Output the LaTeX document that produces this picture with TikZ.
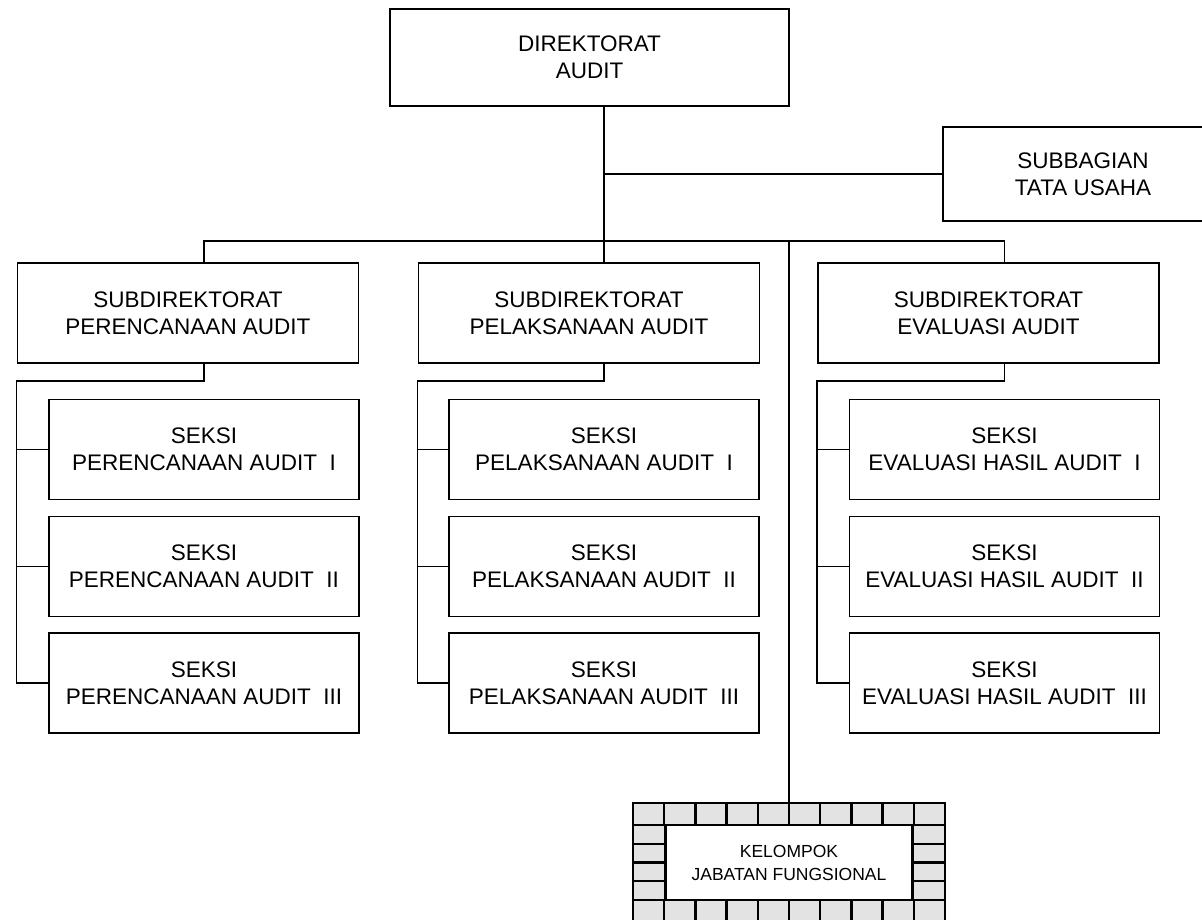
\documentclass[tikz,border=0pt]{standalone}
\usepackage{fontspec}
\setmainfont{Liberation Sans}

\begin{document}
\begin{tikzpicture}
	[x=1pt,y=-1pt,line cap=rect,line join=miter,
	%Styles
	unit/.style={draw,line width=1.8pt,align=center,inner sep=0pt,font=\fontsize{22.5}{27}\selectfont},
	direktorat/.style={unit,minimum width=399pt,minimum height=97pt},
	subbagian/.style={unit,minimum width=280pt,minimum height=94pt},
	subdirektorat/.style={unit,minimum width=341pt,minimum height=100pt},
	seksi/.style={unit,minimum width=310pt,minimum height=100pt},
	fungsional/.style={unit,line width=2.4pt,fill=white,minimum width=247pt,minimum height=75pt,font=\fontsize{17.5}{23}\selectfont},
	tile/.style={draw,line width=2.4pt,fill=gray!22},
	link/.style={line width=1.5pt}
	]
	\useasboundingbox (0,0) rectangle (1202,919);
	
	%The units
	\node[direktorat] (dir) at (589.5,57.5) {DIREKTORAT\\AUDIT};
	\node[subbagian] (tu) at (1083,174) {SUBBAGIAN\\TATA USAHA};
	
	\node[subdirektorat] (sdA) at (188,313) {SUBDIREKTORAT\\PERENCANAAN AUDIT};
	\node[subdirektorat] (sdB) at (589,313) {SUBDIREKTORAT\\PELAKSANAAN AUDIT};
	\node[subdirektorat] (sdC) at (988.5,313) {SUBDIREKTORAT\\EVALUASI AUDIT};
	
	\foreach \k/\y/\num in {1/449.5/I,2/566.5/II,3/683/III} {
		\node[seksi] (sA\k) at (204,\y) {SEKSI\\PERENCANAAN AUDIT~~\num};
		\node[seksi] (sB\k) at (604,\y) {SEKSI\\PELAKSANAAN AUDIT~~\num};
		\node[seksi] (sC\k) at (1004.5,\y) {SEKSI\\EVALUASI HASIL AUDIT~~\num};
	}
	
	%The tiled frame
	\foreach \i in {0,...,9} {
		\filldraw[tile] (633+31.2*\i,803) rectangle +(31.2,22);
		\filldraw[tile] (633+31.2*\i,900) rectangle +(31.2,22);
	}
	\foreach \j in {0,...,3} {
		\filldraw[tile] (633,825+18.75*\j) rectangle +(33,18.75);
		\filldraw[tile] (912,825+18.75*\j) rectangle +(33,18.75);
	}
	\node[fungsional] (jf) at (789,862.5) {KELOMPOK\\JABATAN FUNGSIONAL};
	\coordinate (jftop) at (789,803);
	
	%Lines
	\coordinate (bar) at (0,241);
	\coordinate (elbow) at (0,381);
	
	\draw[link] (dir.south -| sB1) -- (sdB.north -| sB1);
	\draw[link] (sB1 |- tu.west) -- (tu.west);
	\draw[link] (sA1 |- bar) -- (sC1 |- bar);
	\foreach \c in {A,C}
		\draw[link] (s\c1 |- bar) -- (s\c1 |- sd\c.north);
	\draw[link] (jftop |- bar) -- (jftop);
	
	\foreach \c in {A,B,C} {
		\draw[link] (sd\c.south -| s\c1) -- (s\c1 |- elbow) -- (sd\c.west |- elbow) -- (sd\c.west |- s\c3);
		\foreach \k in {1,2,3}
			\draw[link] (sd\c.west |- s\c\k) -- (s\c\k.west);
	}
\end{tikzpicture}
\end{document}
